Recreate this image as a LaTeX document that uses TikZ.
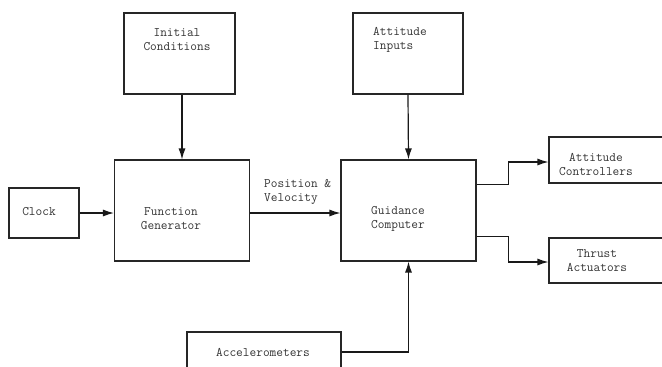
\documentclass[tikz,border=0pt]{standalone}
\usepackage{fontspec}
\usetikzlibrary{arrows.meta}

\tikzset{
  blk/.style={draw=black!85, line width=1.1pt, inner sep=0pt},
  lbl/.style={text=black!80, font=\ttfamily\fontsize{13}{14}\selectfont, align=center, inner sep=0pt},
  wire/.style={draw=black!90, line width=1.2pt},
  arr/.style={wire, -{Latex[length=11pt,width=7pt]}}
}

\begin{document}
\begin{tikzpicture}[x=1pt,y=-1pt]

  \useasboundingbox (0,0) rectangle (662,367);
  \clip (0,0) rectangle (662,367);

  % Blocks (empty boxes, text goes on top)
  \node[blk, minimum width=111pt, minimum height=81pt]  (initcond) at (179.5,53.5) {};
  \node[blk, minimum width=110pt, minimum height=81pt]  (attinput) at (408,53.5) {};
  \node[blk, minimum width=70pt,  minimum height=50pt]  (clock)    at (44,213) {};
  \node[blk, minimum width=135pt, minimum height=101pt] (funcgen)  at (182,210.5) {};
  \node[blk, minimum width=135pt, minimum height=101pt] (guidcomp) at (408.5,210.5) {};
  \node[blk, minimum width=130pt, minimum height=46pt]  (attctrl)  at (614,160) {};
  \node[blk, minimum width=130pt, minimum height=45pt]  (thrust)   at (614,260.5) {};
  \node[blk, minimum width=154pt, minimum height=60pt]  (accel)    at (264,362) {};

  % Block texts
  \node[lbl] (initcondtxt) at (177,39.5) {Initial\\Conditions};
  \node[lbl, align=left, anchor=west] (attinputtxt) at (373,39.5) {Attitude\\Inputs};
  \node[lbl] (clocktxt) at (39,212) {Clock};
  \node[lbl] (funcgentxt) at (171,219) {Function\\Generator};
  \node[lbl] (guidcomptxt) at (398,219) {Guidance\\Computer};
  \node[lbl] (attctrltxt) at (596,164.5) {Attitude\\Controllers};
  \node[lbl] (thrusttxt) at (597,261) {Thrust\\Actuators};
  \node[lbl] (acceltxt) at (263,352) {Accelerometers};
  \node[lbl, align=left, anchor=west] (posvel) at (264,191.5) {Position \&\\Velocity};

  % Connections
  \draw[arr] (funcgen.north |- initcond.south) -- (funcgen.north);
  \draw[arr] (attinput.south) -- (guidcomp.north |- funcgen.north);
  \draw[arr] (clock.east) -- (funcgen.west |- clock);
  \draw[arr] (funcgen.east |- clock) -- (guidcomp.west |- clock);
  \draw[arr] ([yshift=-25pt]guidcomp.north east) -- ++(32,0) |- ([yshift=-2pt]attctrl.west);
  \draw[arr] ([yshift=-77pt]guidcomp.north east) -- ++(32,0) |- ([yshift=-1.5pt]thrust.west);
  \draw[arr] (accel.east |- acceltxt) -| (guidcomp.south);

\end{tikzpicture}
\end{document}
